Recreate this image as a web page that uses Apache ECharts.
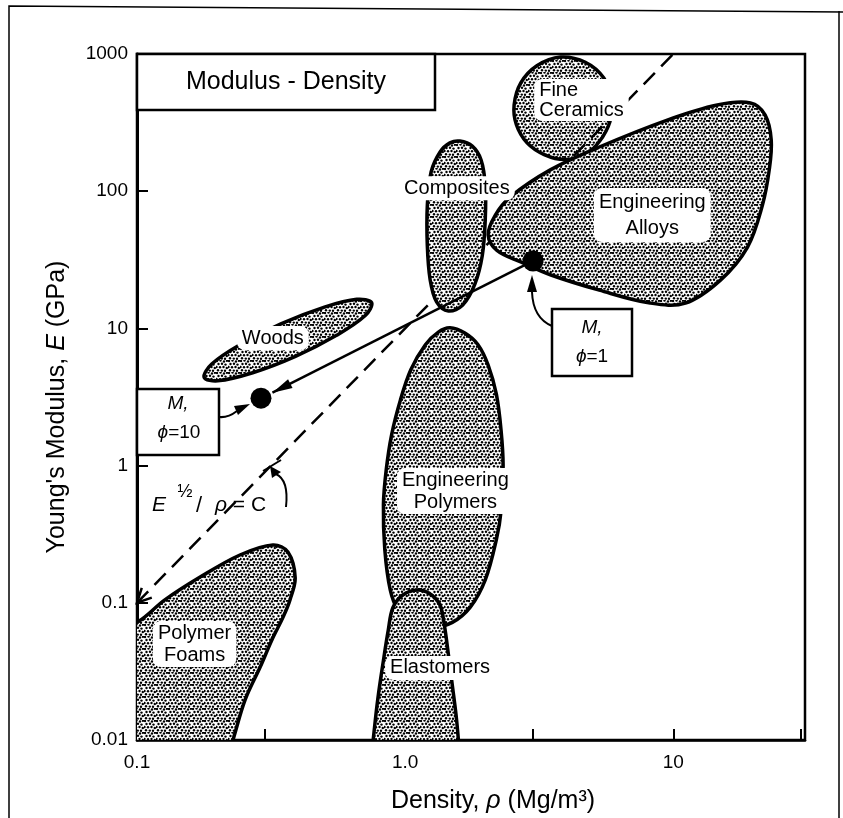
<!DOCTYPE html>
<html><head><meta charset="utf-8">
<script src="https://cdn.jsdelivr.net/npm/echarts@6/dist/echarts.min.js"></script>
<style>html,body{margin:0;padding:0;background:#fff}#c{width:843px;height:818px}</style>
</head><body><div id="c"></div>
<script>
// ---------------- data (density Mg/m3, modulus GPa) ----------------
const xTickValues = [0.1, 0.3, 1, 3, 10, 30];
const xLabelValues = [0.1, 1, 10];
const xLabelText = ['0.1', '1.0', '10'];
const yTickValues = [0.01, 0.1, 1, 10, 100, 1000];
const yLabelValues = [0.01, 0.1, 1, 10, 100, 1000];
const yLabelText = ['0.01', '0.1', '1', '10', '100', '1000'];

const polymerFoams = [[0.085,0.007],[0.085,0.068],[0.1,0.072],[0.127,0.105],[0.172,0.154],[0.242,0.223],[0.321,0.264],[0.366,0.234],[0.389,0.152],[0.372,0.105],[0.351,0.079],[0.319,0.054],[0.288,0.034],[0.253,0.0196],[0.228,0.01],[0.215,0.007]];
const woods = [[0.75,15.4],[0.71,12.4],[0.555,8.9],[0.39,6.25],[0.27,4.75],[0.2,4.15],[0.178,4.4],[0.19,5.5],[0.242,7.6],[0.344,10.8],[0.5,14.3],[0.66,16.3]];
const engineeringPolymers = [[1.47,10.1],[1.67,9.25],[1.87,7.6],[2.04,5.4],[2.19,3.3],[2.28,1.8],[2.32,1.0],[2.28,0.47],[2.19,0.29],[1.99,0.147],[1.75,0.093],[1.5,0.072],[1.26,0.066],[1.06,0.072],[0.94,0.089],[0.88,0.124],[0.84,0.243],[0.83,0.52],[0.85,0.93],[0.89,1.67],[0.96,3.0],[1.05,5.0],[1.19,7.6],[1.33,9.4]];
const elastomers = [[0.745,0.007],[0.76,0.01],[0.79,0.0196],[0.83,0.038],[0.865,0.063],[0.9,0.092],[0.98,0.114],[1.11,0.124],[1.24,0.116],[1.35,0.096],[1.4,0.069],[1.45,0.042],[1.5,0.025],[1.55,0.015],[1.58,0.01],[1.6,0.007]];
const composites = [[1.6,232],[1.78,213],[1.92,169],[1.99,111],[1.99,62],[1.94,34],[1.82,21],[1.64,14.8],[1.45,13.4],[1.31,15.6],[1.24,22.5],[1.21,40],[1.21,79],[1.25,138],[1.35,193],[1.47,225]];
const fineCeramics = [[3.8,950],[4.7,870],[5.5,670],[5.9,460],[5.8,320],[5.3,230],[4.7,185],[3.95,170],[3.3,185],[2.85,225],[2.6,305],[2.55,425],[2.7,615],[3.1,820]];
const engineeringAlloys = [[2.04,48],[2.17,67],[2.47,91],[3.48,143],[5.3,210],[9.5,330],[14.6,425],[19.4,440],[22,360],[23.2,236],[22.8,143],[21.5,79],[18.9,39],[15,22.5],[11.1,15.3],[8.2,15.3],[5.3,19],[3.5,24.5],[2.7,30.5],[2.2,37]];

const guideLine = [[0.1, 0.1], [10, 1000]];          // E^1/2 / rho = C
const shapeLine = [[3.0, 31], [0.32, 3.4]];          // from phi=1 to phi=10
const materialPoints = [[0.29, 3.1], [3.0, 31]];     // M, phi=10 and M, phi=1

// ---------------- layout (not data) ----------------
const FONT = '"Liberation Sans", Arial, sans-serif';
const regionLabelLayout = [
  {text:'Polymer\nFoams', at:[0.164,0.05], lh:22},
  {text:'Woods', at:[0.321,8.5], lh:22},
  {text:'Engineering\nPolymers', at:[1.54,0.653], lh:22},
  {text:'Elastomers', at:[1.35,0.0335], lh:22},
  {text:'Composites', at:[1.56,105], lh:22},
  {text:'Fine\nCeramics', at:[3.03,462], lh:20, align:'left'},
  {text:'Engineering\nAlloys', at:[8.35,67], lh:26}
];

// stipple tile
const tile = document.createElement('canvas');
tile.width = 12; tile.height = 12;
const g = tile.getContext('2d');
g.fillStyle = '#fff'; g.fillRect(0,0,12,12);
g.fillStyle = '#000';
[[1,1],[4.5,0.5],[8,1.5],[11,0.8],[2.5,4],[6,3.8],[9.5,4.6],[0.5,7],[4,7.3],[7.5,7],[10.8,8],[2,10.3],[5.8,10.6],[9,10.8]].forEach(([x,y])=>{
  g.beginPath(); g.arc(x,y,1.2,0,Math.PI*2); g.fill();
});
const stipple = {image: tile, repeat: 'repeat'};

function regionSeries(pts, z) {
  return {
    type:'custom', coordinateSystem:'cartesian2d', clip:true, silent:true, z:z,
    data:[pts[0]],
    renderItem:(params, api)=>({
      type:'polygon',
      shape:{points: pts.map(p=>api.coord(p)), smooth:0.35},
      style:{fill: stipple, stroke:'#000', lineWidth:3.5, lineJoin:'round'}
    })
  };
}

function arrowHead(tip, from, L, W) {
  const dx = tip[0]-from[0], dy = tip[1]-from[1];
  const d = Math.hypot(dx,dy); const ux = dx/d, uy = dy/d; const nx = -uy, ny = ux;
  return [tip, [tip[0]-L*ux+W*nx, tip[1]-L*uy+W*ny], [tip[0]-L*ux-W*nx, tip[1]-L*uy-W*ny]];
}

const axisFmt = (vals, txt) => v => {
  const i = vals.findIndex(t => Math.abs(Math.log10(t)-Math.log10(v)) < 1e-6);
  return i >= 0 ? txt[i] : '';
};

const chart = echarts.init(document.getElementById('c'), null, {renderer:'canvas'});
chart.setOption({
  animation:false,
  backgroundColor:'#fff',
  grid:{left:137, top:54, right:38, bottom:78, show:true, borderColor:'#000', borderWidth:2.5, backgroundColor:'transparent'},
  xAxis:{
    type:'log', logBase:10, min:0.1, max:31,
    axisLine:{show:true, lineStyle:{color:'#000', width:2.5}},
    axisTick:{show:true, inside:true, length:11, lineStyle:{color:'#000', width:2}, customValues:xTickValues},
    axisLabel:{customValues:xLabelValues, formatter:axisFmt(xLabelValues, xLabelText), margin:13, color:'#000', fontSize:19, fontFamily:FONT},
    splitLine:{show:false}
  },
  yAxis:{
    type:'log', logBase:10, min:0.01, max:1000,
    axisLine:{show:true, lineStyle:{color:'#000', width:3}},
    axisTick:{show:true, inside:true, length:11, lineStyle:{color:'#000', width:2}, customValues:yTickValues},
    axisLabel:{customValues:yLabelValues, formatter:axisFmt(yLabelValues, yLabelText), margin:9, color:'#000', fontSize:19, fontFamily:FONT},
    splitLine:{show:false}
  },
  series:[
    regionSeries(polymerFoams, 2),
    regionSeries(woods, 2),
    regionSeries(engineeringPolymers, 2),
    regionSeries(elastomers, 2),
    regionSeries(fineCeramics, 2),
    {type:'line', data:guideLine, symbol:'none', silent:true, z:3,
      lineStyle:{color:'#000', width:2.5, type:[16,9], opacity:1}},
    regionSeries(composites, 4),
    regionSeries(engineeringAlloys, 4),
    {type:'line', data:shapeLine, symbol:'none', silent:true, z:5,
      lineStyle:{color:'#000', width:2.5, opacity:1}},
    {type:'custom', coordinateSystem:'cartesian2d', clip:false, silent:true, z:5, data:[guideLine[0]],
      renderItem:(params, api)=>{
        const sTip = api.coord(shapeLine[1]), sFrom = api.coord(shapeLine[0]);
        const gTip = api.coord(guideLine[0]), gFrom = api.coord(guideLine[1]);
        const ch = arrowHead(gTip, gFrom, 14, 7);
        return {type:'group', children:[
          {type:'polygon', shape:{points:arrowHead(sTip, sFrom, 20, 5)}, style:{fill:'#000'}},
          {type:'polyline', shape:{points:[ch[1], ch[0], ch[2]]}, style:{stroke:'#000', lineWidth:2.5, fill:null}}
        ]};
      }},
    {type:'custom', coordinateSystem:'cartesian2d', clip:false, silent:true, z:6,
      data:regionLabelLayout.map(l=>l.at),
      renderItem:(params, api)=>{
        const l = regionLabelLayout[params.dataIndex];
        const p = api.coord(l.at);
        return {type:'text', x:p[0], y:p[1], style:{text:l.text, fontSize:20, fontFamily:FONT, fill:'#000',
          align:l.align||'center', verticalAlign:'middle', lineHeight:l.lh,
          backgroundColor:'#fff', padding:[1,5], borderRadius:8}};
      }},
    {type:'scatter', data:materialPoints, symbol:'circle', symbolSize:21, silent:true, z:7,
      itemStyle:{color:'#000', opacity:1, borderWidth:0}}
  ],
  graphic:[
    {type:'polyline', shape:{points:[[9,818],[9,6],[843,12]]}, style:{stroke:'#000', lineWidth:1.5, fill:null}, z:0},
    {type:'line', shape:{x1:839,y1:11,x2:839,y2:818}, style:{stroke:'#000', lineWidth:1.5}, z:0},
    {type:'rect', shape:{x:137,y:54,width:298,height:56}, style:{fill:'#fff', stroke:'#000', lineWidth:2.5}, z:100},
    {type:'text', x:286, y:82, style:{text:'Modulus - Density', fontSize:25, fontFamily:FONT, fill:'#000', align:'center', verticalAlign:'middle'}, z:101},
    // M, phi = 10 box
    {type:'rect', shape:{x:137,y:389,width:82,height:66}, style:{fill:'#fff', stroke:'#000', lineWidth:2.5}, z:100},
    {type:'text', x:178, y:404, style:{text:'M,', fontSize:19, fontStyle:'italic', fontFamily:FONT, fill:'#000', align:'center', verticalAlign:'middle'}, z:101},
    {type:'text', x:179, y:433, style:{text:'{i|ϕ}=10', rich:{i:{fontSize:19, fontStyle:'italic', fontFamily:FONT, fill:'#000'}}, fontSize:19, fontFamily:FONT, fill:'#000', align:'center', verticalAlign:'middle'}, z:101},
    // M, phi = 1 box
    {type:'rect', shape:{x:552,y:309,width:80,height:67}, style:{fill:'#fff', stroke:'#000', lineWidth:2.5}, z:100},
    {type:'text', x:592, y:328, style:{text:'M,', fontSize:19, fontStyle:'italic', fontFamily:FONT, fill:'#000', align:'center', verticalAlign:'middle'}, z:101},
    {type:'text', x:592, y:357, style:{text:'{i|ϕ}=1', rich:{i:{fontSize:19, fontStyle:'italic', fontFamily:FONT, fill:'#000'}}, fontSize:19, fontFamily:FONT, fill:'#000', align:'center', verticalAlign:'middle'}, z:101},
    // curved pointers
    {type:'bezierCurve', shape:{x1:219,y1:417,cpx1:228,cpy1:418,x2:237,y2:411}, style:{stroke:'#000', lineWidth:2, fill:null}, z:100},
    {type:'polygon', shape:{points:[[250,404],[234,406],[238,415]]}, style:{fill:'#000'}, z:100},
    {type:'bezierCurve', shape:{x1:552,y1:326,cpx1:533,cpy1:318,x2:532,y2:292}, style:{stroke:'#000', lineWidth:2, fill:null}, z:100},
    {type:'polygon', shape:{points:[[532,275],[527,292],[537,292]]}, style:{fill:'#000'}, z:100},
    {type:'bezierCurve', shape:{x1:286,y1:507,cpx1:289,cpy1:480,x2:276,y2:474}, style:{stroke:'#000', lineWidth:2, fill:null}, z:100},
    {type:'polygon', shape:{points:[[270,466],[272,478],[281,472]]}, style:{fill:'#000'}, z:100},
    {type:'line', shape:{x1:263,y1:471,x2:281,y2:460}, style:{stroke:'#000', lineWidth:2}, z:100},
    // E^1/2 / rho = C
    {type:'text', x:152, y:505, style:{text:'E', fontSize:21, fontStyle:'italic', fontFamily:FONT, fill:'#000', align:'left', verticalAlign:'middle'}, z:101},
    {type:'text', x:185, y:492, style:{text:'½', fontSize:18, fontFamily:FONT, fill:'#000', align:'center', verticalAlign:'middle'}, z:101},
    {type:'text', x:199, y:506, style:{text:'/', fontSize:22, fontFamily:FONT, fill:'#000', align:'center', verticalAlign:'middle'}, z:101},
    {type:'text', x:215, y:505, style:{text:'{i|ρ} = C', rich:{i:{fontSize:21, fontStyle:'italic', fontFamily:FONT, fill:'#000'}}, fontSize:21, fontFamily:FONT, fill:'#000', align:'left', verticalAlign:'middle'}, z:101},
    // axis titles
    {type:'text', x:57, y:407, rotation:Math.PI/2, style:{text:"Young's Modulus, {i|E} (GPa)", rich:{i:{fontSize:25, fontStyle:'italic', fontFamily:FONT, fill:'#000'}}, fontSize:25, fontFamily:FONT, fill:'#000', align:'center', verticalAlign:'middle'}, z:101},
    {type:'text', x:493, y:801, style:{text:'Density, {i|ρ} (Mg/m³)', rich:{i:{fontSize:25, fontStyle:'italic', fontFamily:FONT, fill:'#000'}}, fontSize:25, fontFamily:FONT, fill:'#000', align:'center', verticalAlign:'middle'}, z:101}
  ]
});
</script></body></html>
